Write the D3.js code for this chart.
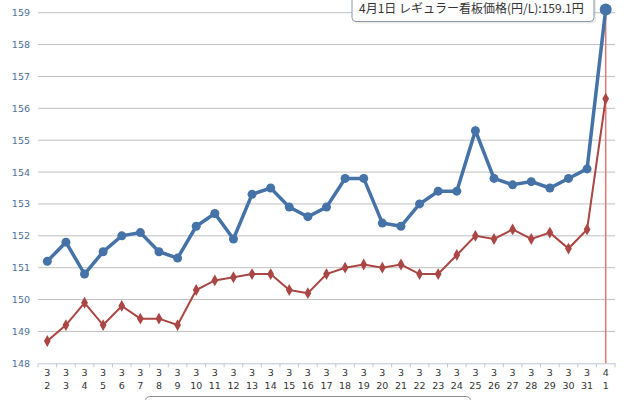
<!DOCTYPE html>
<html>
<head>
<meta charset="utf-8">
<script src="https://cdn.jsdelivr.net/npm/d3@7"></script>
<style>
  body { margin: 0; background: #fff; }
  svg { display: block; font-family: "Lucida Grande", "DejaVu Sans", "Noto Sans CJK JP", sans-serif; }
</style>
</head>
<body>
<svg id="chart" width="640" height="400"></svg>
<script>
'use strict'

var months = [3,3,3,3,3,3,3,3,3,3,3,3,3,3,3,3,3,3,3,3,3,3,3,3,3,3,3,3,3,3,4];
var days = [2,3,4,5,6,7,8,9,10,11,12,13,14,15,16,17,18,19,20,21,22,23,24,25,26,27,28,29,30,31,1];

// レギュラー看板価格
var regular = [151.2,151.8,150.8,151.5,152.0,152.1,151.5,151.3,152.3,152.7,151.9,153.3,153.5,152.9,152.6,152.9,
	153.8,153.8,152.4,152.3,153.0,153.4,153.4,155.3,153.8,153.6,153.7,153.5,153.8,154.1,159.1];
// second series (red)
var actual = [148.7,149.2,149.9,149.2,149.8,149.4,149.4,149.2,150.3,150.6,150.7,150.8,150.8,150.3,150.2,150.8,
	151.0,151.1,151.0,151.1,150.8,150.8,151.4,152.0,151.9,152.2,151.9,152.1,151.6,152.2,156.3];

var yTicks = [148,149,150,151,152,153,154,155,156,157,158,159];

var BLUE = "#4572A7",
	RED = "#AA4643";

var svg = d3.select("#chart");

var keys = days.map(function (d, i) { return i; });

var x = d3.scaleBand()
	.domain(keys)
	.range([38, 615]);

var y = d3.scaleLinear()
	.domain([148, 159])
	.range([363.3, 12.7]);

function cx(i) { return x(i) + x.bandwidth() / 2; }

// grid lines
svg.append("g")
	.selectAll("line")
	.data(yTicks.slice(1))
	.join("line")
	.attr("x1", 38)
	.attr("x2", 615)
	.attr("y1", function (d) { return y(d); })
	.attr("y2", function (d) { return y(d); })
	.style("stroke", "#c0c0c0")
	.style("stroke-width", 1);

// y labels
svg.append("g")
	.selectAll("text")
	.data(yTicks)
	.join("text")
	.attr("x", 30)
	.attr("y", function (d) { return y(d) + 3.5; })
	.style("text-anchor", "end")
	.style("font-size", "9.5px")
	.style("fill", "#4d6f9a")
	.text(function (d) { return d; });

// x axis
var xAxis = d3.axisBottom(x)
	.tickSize(0)
	.tickFormat("");

var gx = svg.append("g")
	.attr("transform", "translate(0," + y(148) + ")")
	.call(xAxis);
gx.select(".domain").style("stroke", "#c0c8d0");

gx.selectAll(".bound")
	.data(keys.concat([keys.length]))
	.join("line")
	.attr("class", "bound")
	.attr("x1", function (d) { return 38 + d * x.bandwidth(); })
	.attr("x2", function (d) { return 38 + d * x.bandwidth(); })
	.attr("y1", 0)
	.attr("y2", 4)
	.style("stroke", "#c0c8d0");

var labels = svg.append("g")
	.selectAll("text")
	.data(keys)
	.join("text")
	.attr("x", function (d) { return cx(d); })
	.attr("y", 376)
	.style("text-anchor", "middle")
	.style("font-size", "9.5px")
	.style("fill", "#333");

labels.append("tspan")
	.attr("x", function (d) { return cx(d); })
	.text(function (d) { return months[d]; });
labels.append("tspan")
	.attr("x", function (d) { return cx(d); })
	.attr("dy", 12.5)
	.text(function (d) { return days[d]; });

// crosshair at the hovered point
var last = keys.length - 1;
svg.append("line")
	.attr("x1", cx(last))
	.attr("x2", cx(last))
	.attr("y1", y(regular[last]))
	.attr("y2", y(148))
	.style("stroke", "#e07a7a")
	.style("stroke-width", 1.5);

var line = d3.line()
	.x(function (d, i) { return cx(i); })
	.y(function (d) { return y(d); });

// red series
svg.append("path")
	.datum(actual)
	.attr("d", line)
	.style("fill", "none")
	.style("stroke", RED)
	.style("stroke-width", 2);

svg.append("g")
	.selectAll("path")
	.data(actual)
	.join("path")
	.attr("d", d3.symbol().type(d3.symbolDiamond).size(40))
	.attr("transform", function (d, i) { return "translate(" + cx(i) + "," + y(d) + ")"; })
	.style("fill", RED);

// blue series
svg.append("path")
	.datum(regular)
	.attr("d", line)
	.style("fill", "none")
	.style("stroke", BLUE)
	.style("stroke-width", 3.5);

svg.append("g")
	.selectAll("circle")
	.data(regular)
	.join("circle")
	.attr("cx", function (d, i) { return cx(i); })
	.attr("cy", function (d) { return y(d); })
	.attr("r", function (d, i) { return i == last ? 6 : 4.5; })
	.style("fill", BLUE);

// tooltip
var tip = svg.append("g");
tip.append("rect")
	.attr("x", 353)
	.attr("y", -6)
	.attr("width", 242)
	.attr("height", 28)
	.attr("rx", 4)
	.style("fill", "#000")
	.style("opacity", 0.08)
	.attr("transform", "translate(1,1.5)");
tip.append("rect")
	.attr("x", 352)
	.attr("y", -6)
	.attr("width", 242)
	.attr("height", 27.5)
	.attr("rx", 4)
	.style("fill", "rgba(255,255,255,0.95)")
	.style("stroke", "#8a9aa8")
	.style("stroke-width", 1);
tip.append("text")
	.attr("x", 359)
	.attr("y", 12.5)
	.style("font-family", "'Noto Sans CJK JP', sans-serif")
	.style("font-size", "12px")
	.style("fill", "#333")
	.text(months[last] + "月" + days[last] + "日 レギュラー看板価格(円/L):" + regular[last] + "円");

// legend box (cut off at bottom)
svg.append("rect")
	.attr("x", 145)
	.attr("y", 396.5)
	.attr("width", 326)
	.attr("height", 30)
	.attr("rx", 5)
	.style("fill", "#fff")
	.style("stroke", "#909090");
</script>
</body>
</html>
